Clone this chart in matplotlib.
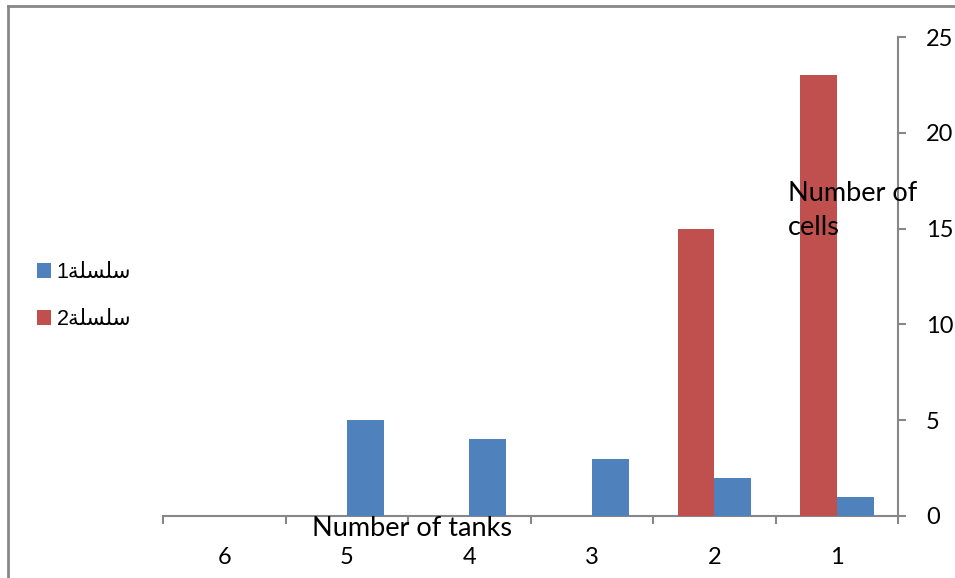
import matplotlib
matplotlib.use("Agg")
import matplotlib.pyplot as plt
from matplotlib.lines import Line2D
from matplotlib.patches import Patch
import numpy as np

# Data
categories = [1, 2, 3, 4, 5, 6]
series1 = [1, 2, 3, 4, 5, 0]
series2 = [23, 15, 0, 0, 0, 0]
y_ticks = [0, 5, 10, 15, 20, 25]

# Series names: Arabic word in shaped presentation forms, visual (left-to-right) order
shaped_word = "\uFE94\uFEE0\uFEB4\uFEE0\uFEB3"
legend_labels = ["1" + shaped_word, "2" + shaped_word]

blue = "#4F81BD"
red = "#C0504D"
gray = "#878787"
tick_font = "Lato"

fig = plt.figure(figsize=(9.55, 5.78), dpi=100)
ax = fig.add_axes([163 / 955, 62 / 578, (898 - 163) / 955, (516 - 37) / 578])

x = np.array(categories, dtype=float)
w = 0.3
ax.bar(x - w / 2, series1, width=w, color=blue, zorder=3)
ax.bar(x + w / 2, series2, width=w, color=red, zorder=3)

ax.set_xlim(6.5, 0.5)
ax.set_ylim(0, 25)

for s in ["top", "left"]:
    ax.spines[s].set_visible(False)
ax.spines["right"].set_color(gray)
ax.spines["bottom"].set_color(gray)
ax.spines["right"].set_linewidth(1.5)
ax.spines["bottom"].set_linewidth(1.5)

# y axis on the right
ax.yaxis.tick_right()
ax.set_yticks(y_ticks)
ax.tick_params(axis="y", which="major", direction="out", length=6, width=1.5,
               color=gray, pad=14, labelsize=17)
for lab in ax.get_yticklabels():
    lab.set_fontfamily(tick_font)

# x axis: labels centred in categories, marks at category borders
ax.set_xticks(categories)
ax.set_xticklabels([str(c) for c in categories])
ax.set_xticks(np.arange(0.5, 7.0, 1.0), minor=True)
ax.tick_params(axis="x", which="major", length=0, pad=22, labelsize=17)
ax.tick_params(axis="x", which="minor", direction="out", length=6, width=1.5, color=gray)
for lab in ax.get_xticklabels():
    lab.set_fontfamily(tick_font)

# Axis titles
fig.text(312 / 955, 1 - 528 / 578, "Number of tanks", fontsize=19.5, family=tick_font,
         ha="left", va="center")
fig.text(788 / 955, 1 - 211 / 578, "Number of\ncells", fontsize=19.5, family=tick_font,
         ha="left", va="center", linespacing=1.45)

# Legend
handles = [Patch(facecolor=blue), Patch(facecolor=red)]
fig.legend(handles, legend_labels, loc="center left",
           bbox_to_anchor=(37 / 955, 1 - 296 / 578), frameon=False, borderpad=0,
           borderaxespad=0,
           prop={"family": ["Liberation Sans", "DejaVu Sans"], "size": 15.5},
           handlelength=0.65, handleheight=0.65, handletextpad=0.25, labelspacing=1.2)

# Outer chart frame (left and top edges)
fig.add_artist(Line2D([8 / 955, 8 / 955], [0, 1 - 6 / 578], transform=fig.transFigure,
                      color=gray, linewidth=2))
fig.add_artist(Line2D([8 / 955, 1], [1 - 6 / 578, 1 - 6 / 578], transform=fig.transFigure,
                      color=gray, linewidth=2))

fig.savefig("out.png", dpi=100)
